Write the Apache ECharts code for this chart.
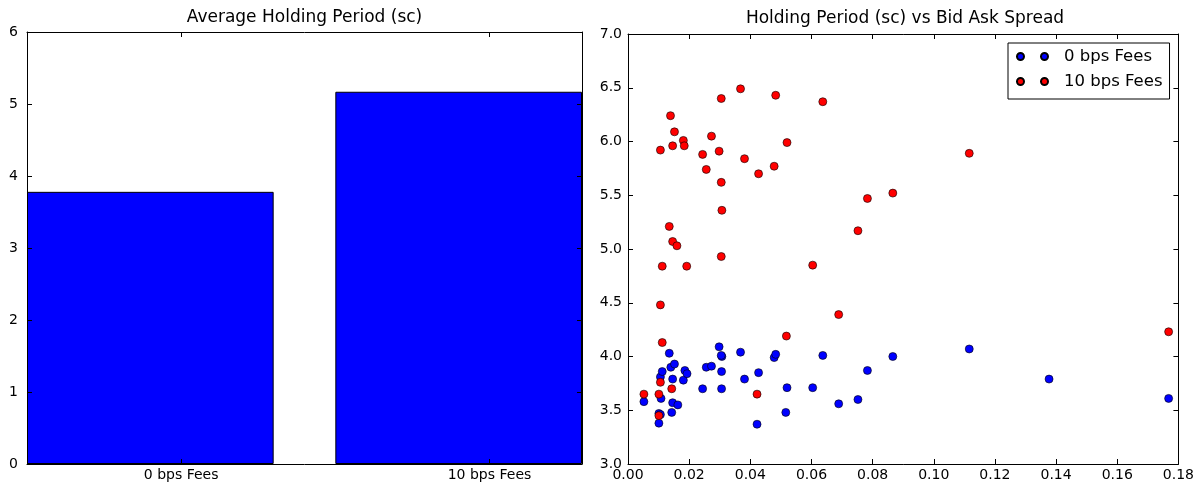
<!DOCTYPE html>
<html><head><meta charset="utf-8">
<script src="https://cdn.jsdelivr.net/npm/echarts@6/dist/echarts.min.js"></script>
<style>html,body{margin:0;padding:0;background:#fff}#chart{width:1197px;height:483px}</style>
</head><body><div id="chart"></div>
<script>
// ---------- data ----------
const barCategories = ['0 bps Fees', '10 bps Fees'];
const barCentres = [0.4, 1.4];
const barTickPositions = [0.5, 1.5];
const barValues = [3.78, 5.17];

const seriesNames = ['0 bps Fees', '10 bps Fees'];

const spreadZero = [0.0052,0.0101,0.0101,0.0106,0.0108,0.0106,0.0112,0.0135,0.0140,0.0143,0.0146,0.0146,0.0152,0.0163,0.0181,0.0186,0.0193,0.0244,0.0256,0.0273,0.0298,0.0307,0.0305,0.0306,0.0306,0.0368,0.0381,0.0422,0.0427,0.0478,0.0483,0.0516,0.0520,0.0604,0.0637,0.0689,0.0752,0.0783,0.0866,0.1116,0.1377,0.1768];
const holdZero   = [3.58,3.38,3.47,3.46,3.61,3.81,3.86,4.03,3.90,3.48,3.79,3.57,3.93,3.55,3.78,3.87,3.84,3.70,3.90,3.91,4.09,4.00,4.01,3.86,3.70,4.04,3.79,3.37,3.85,3.99,4.02,3.48,3.71,3.71,4.01,3.56,3.60,3.87,4.00,4.07,3.79,3.61];

const spreadTen = [0.0052,0.0101,0.0101,0.0106,0.0106,0.0106,0.0112,0.0112,0.0135,0.0139,0.0143,0.0146,0.0146,0.0152,0.0160,0.0181,0.0184,0.0192,0.0244,0.0256,0.0273,0.0298,0.0305,0.0305,0.0307,0.0305,0.0368,0.0381,0.0422,0.0427,0.0478,0.0483,0.0518,0.0520,0.0604,0.0637,0.0689,0.0752,0.0783,0.0866,0.1116,0.1768];
const holdTen   = [3.65,3.65,3.45,5.92,4.48,3.76,4.84,4.13,5.21,6.24,3.70,5.96,5.07,6.09,5.03,6.01,5.96,4.84,5.88,5.74,6.05,5.91,6.40,5.62,5.36,4.93,6.49,5.84,3.65,5.70,5.77,6.43,4.19,5.99,4.85,6.37,4.39,5.17,5.47,5.52,5.89,4.23];

// ---------- layout ----------
const FONT = 'DejaVu Sans';
const barGrid = {left: 27, top: 32, width: 555, height: 432};
const scatGrid = {left: 628, top: 34, width: 554, height: 430};
const barXMax = 1.8;

function axisBase(o) {
  const a = {
    type: 'value',
    gridIndex: o.grid,
    position: o.position,
    min: o.min, max: o.max, interval: o.interval,
    axisLine: {show: true, onZero: false, lineStyle: {color: '#000', width: 1}},
    axisTick: {show: true, inside: true, length: 5, lineStyle: {color: '#000', width: 1}},
    splitLine: {show: false},
    axisLabel: {show: !!o.labels, color: '#000', fontSize: 14, fontFamily: FONT, margin: o.margin || 8,
                formatter: o.formatter, hideOverlap: false, showMinLabel: true, showMaxLabel: true},
    z: 5
  };
  if (o.custom) {
    a.axisTick.customValues = o.custom;
    a.axisLabel.customValues = o.custom;
  }
  return a;
}

const twoDots = 'path://M0,3.5a3.5,3.5 0 1,0 7,0a3.5,3.5 0 1,0 -7,0zM24,3.5a3.5,3.5 0 1,0 7,0a3.5,3.5 0 1,0 -7,0z';

const option = {
  animation: false,
  backgroundColor: '#fff',
  textStyle: {fontFamily: FONT},
  title: [
    {text: 'Average Holding Period (sc)', left: barGrid.left + barGrid.width / 2, textAlign: 'center', top: 9, padding: 0,
     textStyle: {fontSize: 17, fontWeight: 'normal', color: '#000', fontFamily: FONT}},
    {text: 'Holding Period (sc) vs Bid Ask Spread', left: scatGrid.left + scatGrid.width / 2, textAlign: 'center', top: 10, padding: 0,
     textStyle: {fontSize: 17, fontWeight: 'normal', color: '#000', fontFamily: FONT}}
  ],
  legend: {
    orient: 'vertical',
    left: 1008, top: 43,
    padding: [5, 7, 9, 8],
    borderColor: '#000', borderWidth: 1, borderRadius: 0,
    backgroundColor: '#fff',
    itemWidth: 31, itemHeight: 7, itemGap: 8,
    selectedMode: false,
    textStyle: {fontSize: 16.5, color: '#000', fontFamily: FONT, lineHeight: 17, padding: [0, 0, 0, 11]},
    data: seriesNames.map(n => ({name: n, icon: twoDots})),
    z: 10
  },
  grid: [
    Object.assign({containLabel: false}, barGrid),
    Object.assign({containLabel: false}, scatGrid)
  ],
  xAxis: [
    axisBase({grid: 0, position: 'bottom', min: 0, max: barXMax, custom: barTickPositions, labels: true, margin: 4,
              formatter: v => barCategories[barTickPositions.indexOf(v)] || ''}),
    axisBase({grid: 0, position: 'top', min: 0, max: barXMax, custom: barTickPositions}),
    axisBase({grid: 1, position: 'bottom', min: 0, max: 0.18, interval: 0.02, labels: true, margin: 4,
              formatter: v => v.toFixed(2)}),
    axisBase({grid: 1, position: 'top', min: 0, max: 0.18, interval: 0.02})
  ],
  yAxis: [
    axisBase({grid: 0, position: 'left', min: 0, max: 6, interval: 1, labels: true, margin: 9,
              formatter: v => String(v)}),
    axisBase({grid: 0, position: 'right', min: 0, max: 6, interval: 1}),
    axisBase({grid: 1, position: 'left', min: 3, max: 7, interval: 0.5, labels: true, margin: 6,
              formatter: v => v.toFixed(1)}),
    axisBase({grid: 1, position: 'right', min: 3, max: 7, interval: 0.5})
  ],
  series: [
    {
      type: 'bar', name: 'Average Holding Period', xAxisIndex: 0, yAxisIndex: 0,
      barWidth: barGrid.width / barXMax * 0.8,
      itemStyle: {color: '#0000ff', borderColor: '#000', borderWidth: 1},
      data: barCentres.map((c, i) => [c, barValues[i]]),
      z: 2
    },
    {
      type: 'scatter', name: seriesNames[0], xAxisIndex: 2, yAxisIndex: 2,
      symbol: 'circle', symbolSize: 8,
      itemStyle: {color: '#0000ff', borderColor: '#000', borderWidth: 0.6, opacity: 1},
      data: spreadZero.map((x, i) => [x, holdZero[i]]),
      z: 3
    },
    {
      type: 'scatter', name: seriesNames[1], xAxisIndex: 2, yAxisIndex: 2,
      symbol: 'circle', symbolSize: 8,
      itemStyle: {color: '#ff0000', borderColor: '#000', borderWidth: 0.6, opacity: 1},
      data: spreadTen.map((x, i) => [x, holdTen[i]]),
      z: 4
    }
  ]
};

const chart = echarts.init(document.getElementById('chart'), null, {renderer: 'canvas'});
chart.setOption(option);
</script>
</body></html>
